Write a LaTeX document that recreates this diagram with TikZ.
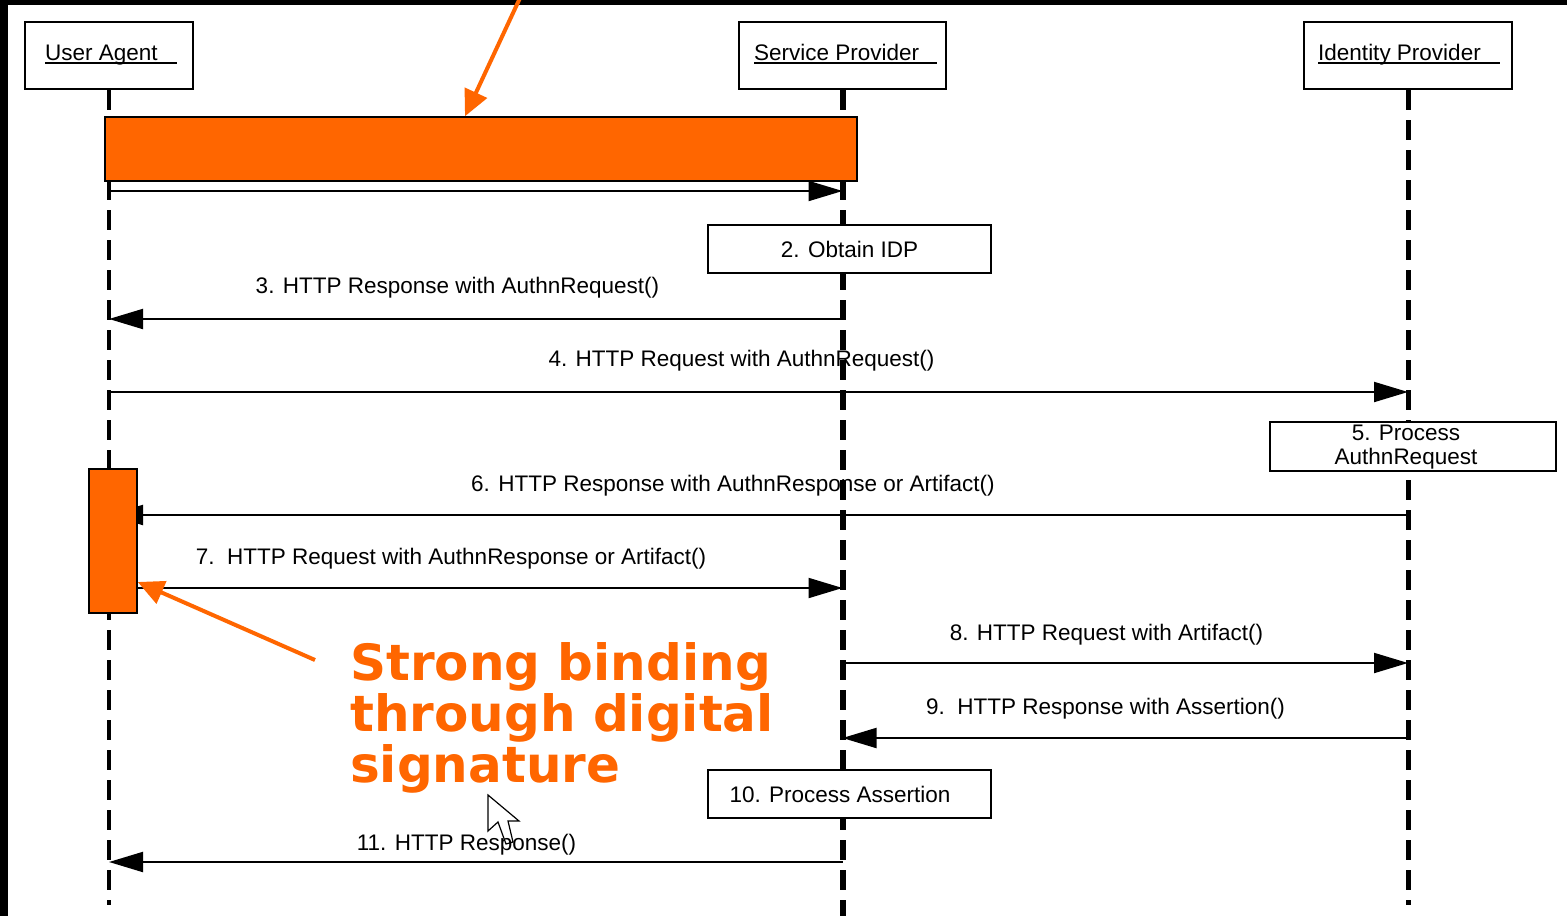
\documentclass[tikz,border=0pt]{standalone}
\usepackage{fontspec}
\setmainfont{Liberation Sans}
\newfontfamily\dejavu{DejaVu Sans}
\usetikzlibrary{arrows.meta}
\definecolor{orng}{RGB}{255,102,0}
\begin{document}
\begin{tikzpicture}[x=1pt,y=-1pt,
  actor/.style={draw, line width=2pt, fill=white, minimum height=67pt, inner sep=0pt},
  actortext/.style={anchor=base west, inner sep=0pt, font=\fontsize{22.5}{26}\selectfont},
  uline/.style={line width=1.6pt},
  procbox/.style={draw, line width=2pt, fill=white, inner sep=0pt, font=\fontsize{22.5}{23.5}\selectfont, align=center},
  lbl/.style={inner sep=0pt, font=\fontsize{22.5}{24}\selectfont},
  lifeline/.style={line width=4pt, dash pattern=on 20pt off 10pt},
  msg/.style={line width=2pt, -{Triangle[length=34pt,width=20pt]}},
  hl/.style={fill=orng, draw=black, line width=1.5pt},
  callout/.style={draw=orng, line width=4pt, -{Triangle[length=26pt,width=24pt]}, fill=none}]
\useasboundingbox (0,0) rectangle (1567,916);
\fill[black] (0,0) rectangle (1567,916);
\fill[white] (8,5) rectangle (1567,916);

% header boxes
\node[actor, minimum width=168pt] (ua) at (109,55.5) {};
\node[actor, minimum width=207pt] (sp) at (842.5,55.5) {};
\node[actor, minimum width=208pt] (idp) at (1408,55.5) {};
\node[actortext] (uat) at (45,60) {User Agent};
\node[actortext] (spt) at (754,60) {Service Provider};
\node[actortext] (idpt) at (1318,60) {Identity Provider};
\draw[uline] ([yshift=-3pt]uat.base west) -- ([xshift=132pt,yshift=-3pt]uat.base west);
\draw[uline] ([yshift=-3pt]spt.base west) -- ([xshift=183pt,yshift=-3pt]spt.base west);
\draw[uline] ([yshift=-3pt]idpt.base west) -- ([xshift=182pt,yshift=-3pt]idpt.base west);

\coordinate (bot) at (0,905);
\coordinate (botsp) at (0,916);
\draw[lifeline] (ua.south) -- (ua.south |- bot);
\draw[lifeline, line width=6pt] (sp.south) -- (sp.south |- botsp);
\draw[lifeline, line width=5pt] (idp.south) -- (idp.south |- bot);

% message rows
\coordinate (y1) at (0,191);
\coordinate (y3) at (0,319);
\coordinate (y4) at (0,392);
\coordinate (y6) at (0,515);
\coordinate (y7) at (0,588);
\coordinate (y8) at (0,663);
\coordinate (y9) at (0,738);
\coordinate (y11) at (0,862);

\draw[msg] (ua.south |- y1) -- (sp.south |- y1);
\draw[msg] (sp.south |- y3) -- (ua.south |- y3);
\draw[msg] (ua.south |- y4) -- (idp.south |- y4);
\draw[msg] (idp.south |- y6) -- (ua.south |- y6);
\draw[msg] (ua.south |- y7) -- (sp.south |- y7);
\draw[msg] (sp.south |- y8) -- (idp.south |- y8);
\draw[msg] (idp.south |- y9) -- (sp.south |- y9);
\draw[msg] (sp.south |- y11) -- (ua.south |- y11);

% process boxes
\node[procbox, minimum width=283pt, minimum height=48pt] (p2) at (849.5,249) {2. Obtain IDP};
\node[procbox, minimum width=286pt, minimum height=49pt] (p5) at (1413,446.5) {};
\node[inner sep=0pt, font=\fontsize{22.5}{24}\selectfont, align=center] (p5t) at (1406,447.5) {5. Process\\AuthnRequest};
\node[procbox, minimum width=283pt, minimum height=48pt] (p10) at (849.5,794) {};
\node[lbl] (p10t) at (840,794) {10. Process Assertion};

% highlights
\node[hl, minimum width=752pt, minimum height=64pt, inner sep=0pt] (hbar) at (481,149) {};
\node[hl, minimum width=48pt, minimum height=144pt, inner sep=0pt] (hact) at (113,541) {};

% labels
\node[lbl] (l3) at (457.5,288) {3. HTTP Response with AuthnRequest()};
\node[lbl] (l4) at (741.5,361) {4. HTTP Request with AuthnRequest()};
\node[lbl] (l6) at (733,486) {6. HTTP Response with AuthnResponse or Artifact()};
\node[lbl] (l7) at (451,559) {7.\ \ HTTP Request with AuthnResponse or Artifact()};
\node[lbl] (l8) at (1106.5,635) {8. HTTP Request with Artifact()};
\node[lbl] (l9) at (1105.5,709) {9.\ \ HTTP Response with Assertion()};

% cursor
\draw[fill=white, line width=1.2pt, line join=miter] (488,795) -- (488,831) -- (498,822) -- (506,844) -- (513,842) -- (508,821) -- (519,821) -- cycle;
\node[lbl] (l11) at (466.5,845) {11. HTTP Response()};

% callouts
\node[anchor=north west, inner sep=0pt, align=left, text=orng, font=\dejavu\bfseries\fontsize{50}{51}\selectfont] (sig) at (350,642) {Strong binding\\through digital\\signature};
\coordinate (ctop) at (520,-2);
\draw[callout] (ctop) -- (hbar.north -| 465,0);
\coordinate (cbot) at (315,660);
\draw[callout] (cbot) -- (hact.east |- 0,582);
\end{tikzpicture}
\end{document}
